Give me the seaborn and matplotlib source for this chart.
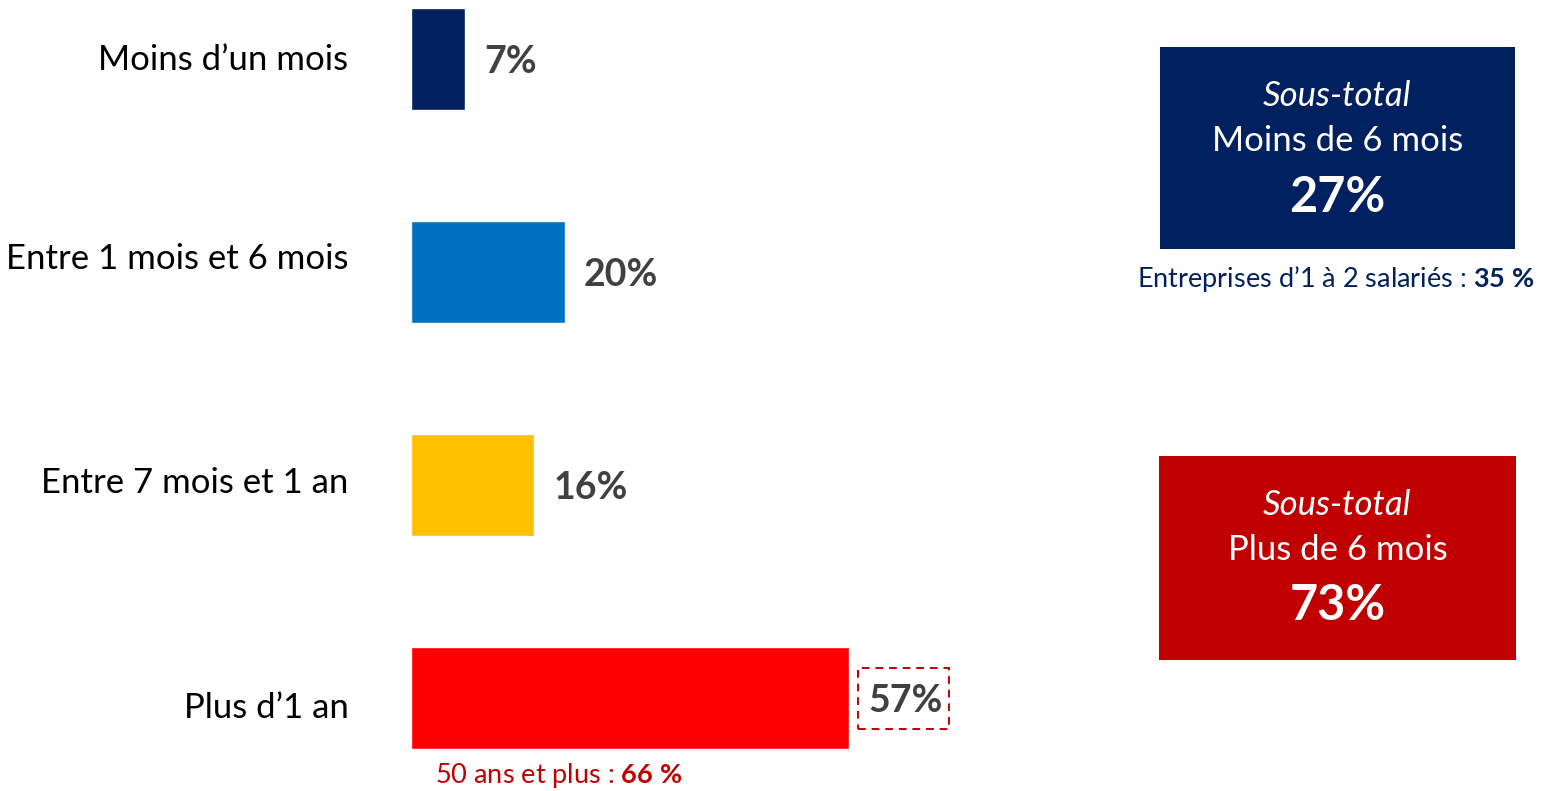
import matplotlib
matplotlib.use("Agg")
import matplotlib.pyplot as plt
import seaborn as sns
from matplotlib.patches import Rectangle
from matplotlib.transforms import ScaledTranslation

# Data
categories = ["Moins d\u2019un mois", "Entre 1 mois et 6 mois", "Entre 7 mois et 1 an", "Plus d\u20191 an"]
values = [7, 20, 16, 57]
bar_colors = ["#002060", "#0070C0", "#FFC000", "#FF0000"]

subtotal_labels = ["Moins de 6 mois", "Plus de 6 mois"]
subtotal_values = [27, 73]
subtotal_colors = ["#002060", "#C00000"]

note_small_firms = 35
note_over_50 = 66

sns.set_style("white")
plt.rcParams["font.family"] = ["Lato", "DejaVu Sans"]
plt.rcParams["mathtext.fontset"] = "custom"
plt.rcParams["mathtext.rm"] = "Lato"
plt.rcParams["mathtext.bf"] = "Lato:bold"
plt.rcParams["mathtext.it"] = "Lato:italic"

W, H = 1542, 791
fig = plt.figure(figsize=(W / 100, H / 100), dpi=100)


def fx(px):
    return px / W


def fy(py):
    return 1 - py / H


# main bar axes: 1 % = 7.68 px, bars centred every 213 px
ax = fig.add_axes([fx(411), 0, fx(1100 - 411), 1])
sns.barplot(x=values, y=categories, hue=categories, palette=bar_colors,
            legend=False, width=0.48, orient="h", saturation=1, ax=ax)
ax.set_xlim(0, (1100 - 411) / 7.68)
ax.set_ylim((791 - 59) / 213, -59 / 213)
sns.despine(ax=ax, left=True, bottom=True)
ax.set_xticks([])
ax.set_xlabel("")
ax.set_ylabel("")
ax.tick_params(axis="y", length=0, pad=45, labelsize=25, labelcolor="#000000")

# the category labels are not exactly centred on their bars in the original
label_shift_px = [2, 16, 5, -7]
for lab, dy in zip(ax.get_yticklabels(), label_shift_px):
    lab.set_transform(lab.get_transform() + ScaledTranslation(0, dy / 100, fig.dpi_scale_trans))

for cont in ax.containers:
    for t in ax.bar_label(cont, fmt="%d%%", padding=14, fontsize=27, fontweight="bold",
                          color="#404040"):
        t.xyann = (t.xyann[0], -2.5)

# dashed box around the last value
fig.patches.append(Rectangle((fx(858), fy(729)), fx(949 - 858), fy(668) - fy(729),
                             transform=fig.transFigure, fill=False,
                             edgecolor="#C00000", linestyle=(0, (4, 3)), lw=1.4))

# note under the last bar
fig.text(fx(435), fy(776), r"50 ans et plus : $\mathbf{" + str(note_over_50) + r"\ \%}$",
         color="#C00000", fontsize=19.5, va="center", ha="left")

# subtotal boxes
boxes = [(1160, 47, 1515, 249), (1159, 456, 1516, 660)]
for (x0, y0, x1, y1), lab, val, col in zip(boxes, subtotal_labels, subtotal_values, subtotal_colors):
    fig.patches.append(Rectangle((fx(x0), fy(y1)), fx(x1 - x0), fy(y0) - fy(y1),
                                 transform=fig.transFigure, color=col, lw=0))
    cx = fx((x0 + x1) / 2)
    fig.text(cx, fy(y0 + 49), "Sous-total", style="italic", color="white",
             fontsize=25, ha="center", va="center")
    fig.text(cx, fy(y0 + 94), lab, color="white", fontsize=25, ha="center", va="center")
    fig.text(cx, fy(y0 + 150), f"{val}%", color="white", fontsize=35,
             fontweight="bold", ha="center", va="center")

fig.text(fx(1535), fy(279), r"Entreprises d’1 à 2 salariés : $\mathbf{" + str(note_small_firms) + r"\ \%}$",
         color="#002060", fontsize=19.5, va="center", ha="right")

fig.savefig("out.png", dpi=100)
